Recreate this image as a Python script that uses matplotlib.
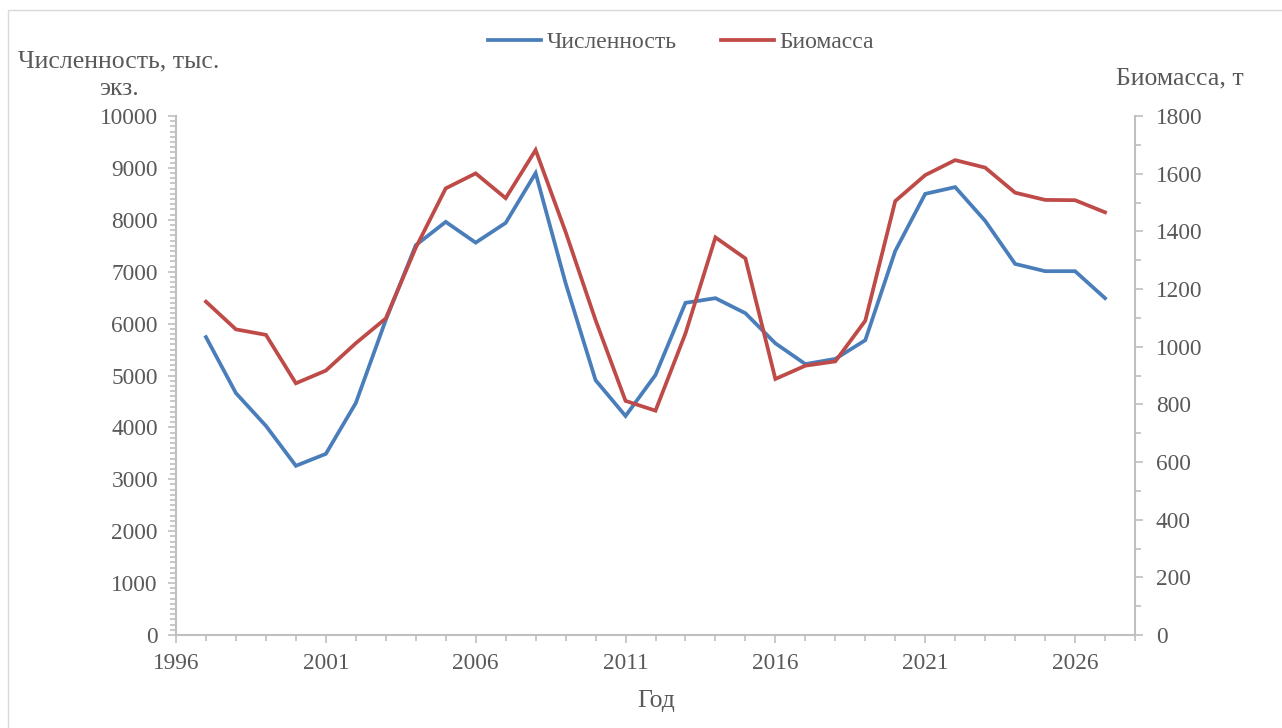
import matplotlib
matplotlib.use("Agg")
import matplotlib.pyplot as plt
from matplotlib.ticker import MultipleLocator
from matplotlib.patches import Rectangle

years = list(range(1997, 2028))
abundance = [5740, 4660, 4030, 3260, 3490, 4470, 6070, 7510, 7960, 7560, 7940, 8900,
             6780, 4910, 4220, 5010, 6400, 6490, 6200, 5620, 5220, 5320, 5680, 7400,
             8500, 8630, 7980, 7150, 7010, 7010, 6490]
biomass = [1156, 1060, 1041, 873, 917, 1012, 1098, 1343, 1549, 1601, 1515, 1682,
           1398, 1092, 812, 778, 1046, 1379, 1306, 888, 934, 949, 1090, 1505,
           1595, 1647, 1621, 1534, 1509, 1508, 1466]

label_abund = "Численность"
label_bio = "Биомасса"

TXT = "#595959"
AX = "#BFBFBF"
BLUE = "#4A7EBB"
RED = "#BE4B48"

plt.rcParams['font.family'] = ['Liberation Serif', 'DejaVu Serif']

fig = plt.figure(figsize=(12.82, 7.28), dpi=100)
fig.patches.append(Rectangle((8/1282, -0.01), 1.02, 1 - 10/728 + 0.01, transform=fig.transFigure,
                             fill=False, edgecolor="#D9D9D9", linewidth=1.0))

ax = fig.add_axes([176/1282, 1 - 635/728, (1135 - 176)/1282, (635 - 116)/728])
ax2 = ax.twinx()

l1, = ax.plot(years, abundance, color=BLUE, lw=2.7, label=label_abund, solid_joinstyle='miter')
l2, = ax2.plot(years, biomass, color=RED, lw=2.7, label=label_bio, solid_joinstyle='miter')

ax.set_xlim(1996, 2028)
ax.set_ylim(0, 10000)
ax2.set_ylim(0, 1800)

ax.xaxis.set_minor_locator(MultipleLocator(1))
ax.yaxis.set_major_locator(MultipleLocator(1000))
ax.yaxis.set_minor_locator(MultipleLocator(100))
ax2.yaxis.set_major_locator(MultipleLocator(200))
ax2.yaxis.set_minor_locator(MultipleLocator(100))
ax.set_xticks(range(1996, 2029, 5))
ax.set_xticklabels([str(y) for y in range(1996, 2029, 5)])

for a in (ax, ax2):
    for s in a.spines.values():
        s.set_visible(False)
    a.tick_params(which='both', colors=AX, labelcolor=TXT, labelsize=16.8, width=1.2)
    a.tick_params(which='major', length=6)
    a.tick_params(which='minor', length=4)

ax.spines['left'].set_visible(True)
ax.spines['left'].set_color(AX)
ax.spines['left'].set_linewidth(1.5)
ax.spines['bottom'].set_visible(True)
ax.spines['bottom'].set_color(AX)
ax.spines['bottom'].set_linewidth(1.5)
ax2.spines['right'].set_visible(True)
ax2.spines['right'].set_color(AX)
ax2.spines['right'].set_linewidth(1.5)

ax.tick_params(axis='x', pad=7)
ax.tick_params(axis='y', pad=7)
ax2.tick_params(axis='y', pad=9)

fig.text(119/1282, 1 - 61/728, "Численность, тыс.", ha='center', va='center', fontsize=18.5, color=TXT)
fig.text(119/1282, 1 - 89/728, "экз.", ha='center', va='center', fontsize=18.5, color=TXT)
fig.text(1180/1282, 1 - 78/728, "Биомасса, т", ha='center', va='center', fontsize=18.5, color=TXT)
fig.text(656/1282, 1 - 701/728, "Год", ha='center', va='center', fontsize=18.5, color=TXT)

fig.legend(handles=[l1, l2], loc='center', bbox_to_anchor=(681/1282, 1 - 42/728), ncol=2,
           frameon=False, fontsize=17, labelcolor=TXT, handlelength=2.25, handletextpad=0.25,
           columnspacing=1.85)

fig.savefig("out.png", dpi=100)
